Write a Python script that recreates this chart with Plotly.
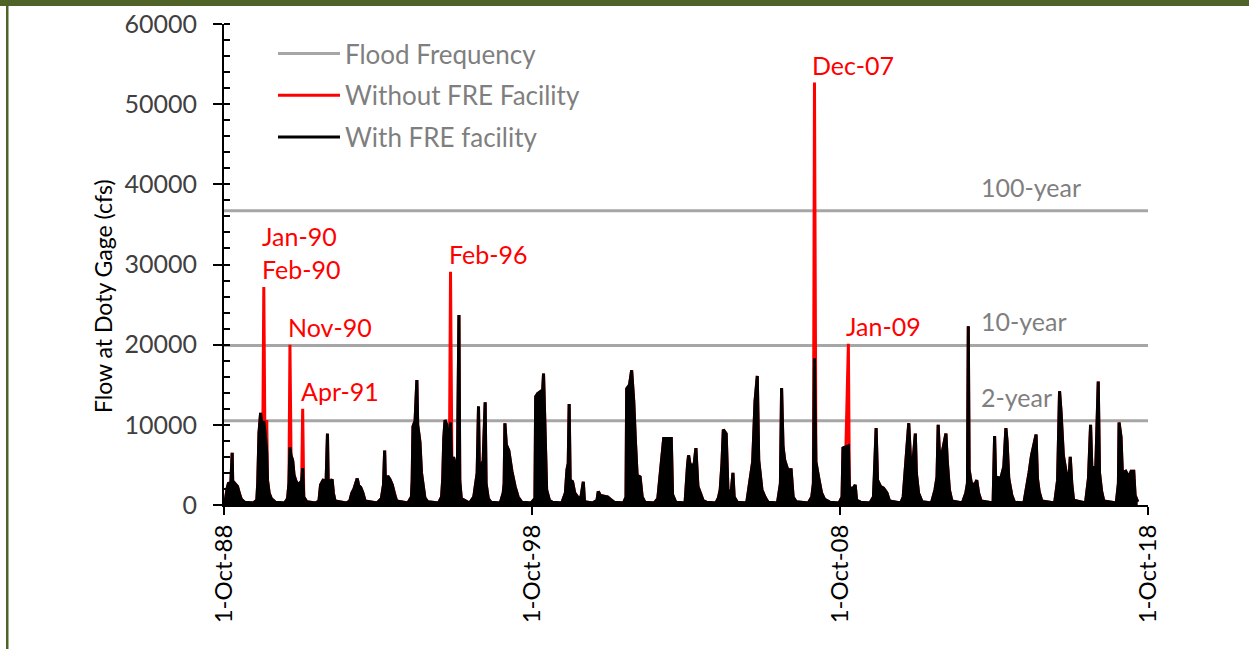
import plotly.graph_objects as go

# ---------------- data ----------------
dates = [
    # 1988-89
    "1988-10-01", "1988-10-20", "1988-11-05", "1988-11-25", "1988-12-20", "1989-01-06", "1989-01-12",
    "1989-02-10", "1989-03-10", "1989-04-05", "1989-04-25", "1989-06-01", "1989-09-15",
    # 1989-90
    "1989-10-25", "1989-11-05", "1989-11-20", "1989-12-09", "1989-12-20", "1990-01-05", "1990-01-16",
    "1990-01-28", "1990-02-10", "1990-02-20", "1990-03-01", "1990-03-20", "1990-04-15", "1990-06-01", "1990-09-20",
    # 1990-91
    "1990-10-25", "1990-11-10", "1990-11-22", "1990-12-05", "1990-12-25", "1991-01-10", "1991-02-01",
    "1991-03-01", "1991-04-10", "1991-04-22", "1991-05-05", "1991-06-10", "1991-09-20",
    # 1991-92
    "1991-11-01", "1991-11-20", "1991-12-20", "1992-01-25", "1992-02-10", "1992-02-18", "1992-03-15",
    "1992-04-05", "1992-04-20", "1992-05-10", "1992-09-20",
    # 1992-93
    "1992-11-01", "1992-11-25", "1992-12-20", "1993-01-28", "1993-02-15", "1993-03-10", "1993-04-05",
    "1993-05-01", "1993-09-20",
    # 1993-94
    "1993-11-10", "1993-12-05", "1993-12-19", "1993-12-28", "1994-01-25", "1994-02-20", "1994-03-20",
    "1994-04-15", "1994-05-10", "1994-09-20",
    # 1994-95
    "1994-11-01", "1994-11-10", "1994-11-20", "1994-12-15", "1995-01-05", "1995-01-15", "1995-02-10",
    "1995-03-01", "1995-03-20", "1995-04-10", "1995-05-15", "1995-09-20",
    # 1995-96
    "1995-10-25", "1995-11-08", "1995-11-20", "1995-12-05", "1995-12-25", "1996-01-10", "1996-01-28",
    "1996-02-08", "1996-02-25", "1996-03-15", "1996-04-10", "1996-05-01", "1996-05-18", "1996-05-28",
    "1996-06-15", "1996-09-20",
    # 1996-97
    "1996-11-10", "1996-12-05", "1996-12-20", "1997-01-05", "1997-01-15", "1997-02-10", "1997-03-01",
    "1997-03-25", "1997-04-05", "1997-05-01", "1997-06-01", "1997-09-20",
    # 1997-98
    "1997-10-25", "1997-11-05", "1997-11-14", "1997-12-01", "1997-12-30", "1998-02-05", "1998-03-15",
    "1998-04-20", "1998-06-01", "1998-09-20",
    # 1998-99
    "1998-11-05", "1998-11-14", "1998-12-08", "1999-01-03", "1999-01-25", "1999-02-15", "1999-03-05",
    "1999-03-24", "1999-04-25", "1999-06-01", "1999-09-20",
    # 1999-00
    "1999-11-01", "1999-11-20", "1999-12-05", "1999-12-16", "1999-12-28", "2000-01-25", "2000-02-20",
    "2000-03-25", "2000-05-01", "2000-06-01", "2000-06-15", "2000-09-20",
    # 2000-01
    "2000-11-10", "2000-11-25", "2000-12-20", "2001-02-01", "2001-03-15", "2001-04-20", "2001-06-01", "2001-09-20",
    # 2001-02
    "2001-10-20", "2001-10-28", "2001-12-01", "2001-12-26", "2002-01-20", "2002-02-08", "2002-03-01",
    "2002-04-05", "2002-04-30", "2002-06-01", "2002-09-20",
    # 2002-03
    "2002-11-01", "2002-11-20", "2002-12-10", "2003-01-10", "2003-04-10", "2003-04-25", "2003-06-01", "2003-09-20",
    # 2003-04
    "2003-10-20", "2003-11-01", "2003-11-20", "2004-01-05", "2004-01-27", "2004-02-20", "2004-03-20",
    "2004-04-20", "2004-06-01", "2004-09-20",
    # 2004-05
    "2004-10-20", "2004-11-10", "2004-12-01", "2004-12-17", "2005-01-20", "2005-02-10", "2005-03-20",
    "2005-04-10", "2005-04-25", "2005-06-01", "2005-09-20",
    # 2005-06
    "2005-10-23", "2005-11-30", "2005-12-28", "2006-01-24", "2006-02-10", "2006-03-20", "2006-04-25",
    "2006-06-01", "2006-09-20",
    # 2006-07
    "2006-10-25", "2006-11-08", "2006-11-25", "2006-12-15", "2007-01-20", "2007-03-01", "2007-03-25",
    "2007-05-01", "2007-09-20",
    # 2007-08
    "2007-11-01", "2007-11-20", "2007-12-03", "2007-12-20", "2008-01-20", "2008-02-25", "2008-04-01",
    "2008-06-01", "2008-09-20",
    # 2008-09
    "2008-10-25", "2008-11-05", "2008-12-10", "2009-01-08", "2009-01-20", "2009-02-20", "2009-03-30",
    "2009-04-15", "2009-06-01", "2009-09-20",
    # 2009-10
    "2009-11-01", "2009-11-15", "2009-12-03", "2009-12-20", "2010-01-25", "2010-03-01", "2010-04-10",
    "2010-05-10", "2010-09-20",
    # 2010-11
    "2010-10-20", "2010-11-01", "2010-11-25", "2010-12-25", "2011-01-15", "2011-02-15", "2011-03-13",
    "2011-03-25", "2011-04-20", "2011-06-01", "2011-09-20",
    # 2011-12
    "2011-11-01", "2011-11-25", "2011-12-09", "2011-12-25", "2012-01-30", "2012-03-10", "2012-03-25",
    "2012-04-20", "2012-05-20", "2012-09-20",
    # 2012-13
    "2012-11-01", "2012-11-20", "2012-11-30", "2012-12-10", "2013-01-05", "2013-02-15", "2013-03-10",
    "2013-04-01", "2013-05-01", "2013-09-20",
    # 2013-14
    "2013-10-08", "2013-10-20", "2013-12-20", "2014-01-25", "2014-02-19", "2014-03-05", "2014-03-25",
    "2014-04-30", "2014-06-01", "2014-09-20",
    # 2014-15
    "2014-10-20", "2014-11-20", "2014-12-20", "2015-02-12", "2015-02-28", "2015-03-20", "2015-04-20", "2015-09-20",
    # 2015-16
    "2015-10-25", "2015-11-17", "2015-12-05", "2016-01-01", "2016-02-05", "2016-03-10", "2016-03-23",
    "2016-04-10", "2016-05-01", "2016-09-20",
    # 2016-17
    "2016-10-25", "2016-11-19", "2016-12-05", "2017-01-20", "2017-02-18", "2017-03-05", "2017-03-30",
    "2017-04-25", "2017-09-20",
    # 2017-18
    "2017-10-15", "2017-10-23", "2017-11-15", "2017-12-01", "2018-01-10", "2018-02-15", "2018-03-15",
    "2018-04-15", "2018-05-01", "2018-06-01",
]

flow_with_fre = [
    300, 800, 2000, 2800, 2500, 6500, 3000, 2600, 2300, 1300, 700, 350, 250,
    600, 2700, 9000, 11500, 10500, 10000, 10500, 9500, 8000, 6500, 3100, 1500, 800, 350, 250,
    800, 2700, 7200, 6200, 5500, 3700, 3000, 2500, 3000, 4600, 1000, 400, 250,
    500, 2500, 3100, 3000, 8900, 3200, 2800, 3200, 1500, 500, 250,
    500, 1500, 2000, 3300, 2400, 2200, 1500, 500, 250,
    800, 2500, 6800, 2800, 3600, 3200, 2500, 1300, 500, 250,
    1000, 3000, 9800, 10500, 15600, 10000, 7900, 4000, 2300, 900, 400, 250,
    1000, 3300, 8300, 10600, 10000, 6600, 9000, 10300, 4400, 6000, 4000, 6000, 23700, 3000, 800, 250,
    1000, 3100, 4000, 12300, 4400, 5000, 5500, 12800, 2700, 800, 350, 250,
    1500, 2700, 10200, 7500, 6800, 4200, 2300, 1000, 350, 250,
    800, 13500, 13900, 14100, 12000, 16400, 7300, 1900, 600, 350, 250,
    1500, 4400, 5200, 12600, 3100, 2900, 1500, 1000, 800, 2900, 400, 250,
    600, 1700, 1200, 1100, 1000, 700, 350, 250,
    1000, 14500, 15000, 16800, 12900, 8100, 3700, 3500, 1000, 350, 250,
    800, 3000, 4800, 8300, 8300, 1300, 350, 250,
    5000, 6200, 5000, 5000, 7100, 2300, 1500, 600, 350, 250,
    900, 1900, 5200, 9400, 8900, 1900, 1500, 4000, 1000, 350, 250,
    2500, 5400, 12900, 16100, 5600, 1900, 1000, 350, 250,
    2700, 14600, 7300, 5600, 4400, 4400, 1000, 400, 250,
    1000, 2700, 18300, 5400, 3500, 1500, 700, 350, 250,
    1000, 7100, 7300, 7400, 2300, 1900, 2500, 600, 350, 250,
    1000, 4000, 9600, 3100, 2300, 2100, 1500, 500, 250,
    1000, 2700, 5200, 10200, 5600, 5600, 8900, 4000, 1500, 400, 250,
    1900, 3500, 10000, 6000, 6800, 8900, 5600, 1900, 500, 250,
    1500, 2700, 22300, 4400, 2700, 2500, 3100, 1500, 500, 250,
    8600, 3500, 3300, 4800, 9600, 7900, 3300, 1200, 350, 250,
    1900, 4000, 6200, 8800, 3300, 1700, 500, 250,
    3100, 14200, 11600, 6200, 4000, 3500, 6000, 2700, 600, 250,
    3300, 10000, 4400, 4800, 15400, 4000, 1700, 500, 250,
    2700, 10300, 8500, 4000, 4200, 3500, 4200, 4200, 1200, 400,
]

# flood events: peak flow without the FRE facility
event_dates = ["1990-01-16", "1990-02-20", "1990-11-22", "1991-04-22", "1996-02-08", "2007-12-03", "2009-01-08"]
flow_without_fre_peaks = [27200, 10600, 20000, 12000, 29100, 52700, 20100]
event_labels = ["Jan-90<br>Feb-90", "", "Nov-90", "Apr-91", "Feb-96", "Dec-07", "Jan-09"]

flood_freq_values = [10500, 19900, 36700]
flood_freq_labels = ["2-year", "10-year", "100-year"]

x_start, x_end = "1988-10-01", "2018-10-01"
x_tick_dates = ["1988-10-01", "1998-10-01", "2008-10-01", "2018-10-01"]
x_tick_labels = ["1-Oct-88", "1-Oct-98", "1-Oct-08", "1-Oct-18"]

# ---------------- figure ----------------
FONT = "Lato"
FS = 25
GREY_TXT = "#7F7F7F"
RED = "#FF0000"

fig = go.Figure()

ff_x, ff_y = [], []
for v in flood_freq_values:
    ff_x += [x_start, x_end, None]
    ff_y += [v, v, None]
fig.add_trace(go.Scatter(x=ff_x, y=ff_y, mode="lines", name="Flood Frequency",
                         line=dict(color="#A6A6A6", width=3), legendgroup="g1"))

without_map = dict(zip(dates, flow_with_fre))
for d, p in zip(event_dates, flow_without_fre_peaks):
    without_map[d] = p
flow_without_fre = [without_map[d] for d in dates]

fig.add_trace(go.Scatter(x=dates, y=flow_without_fre, mode="lines", name="Without FRE Facility",
                         line=dict(color=RED, width=3), legendgroup="g2"))

fig.add_trace(go.Scatter(x=dates, y=flow_with_fre, mode="lines", name="With FRE facility",
                         line=dict(color="black", width=3), fill="tozeroy", fillcolor="black",
                         showlegend=False, legendgroup="g3"))
fig.add_trace(go.Scatter(x=[None], y=[None], mode="lines", name="With FRE facility",
                         line=dict(color="black", width=3), legendgroup="g3"))

annotations = []
for d, p, lab in zip(event_dates, flow_without_fre_peaks, event_labels):
    if not lab:
        continue
    annotations.append(dict(x=d, y=p, xref="x", yref="y", text=lab, showarrow=False,
                            xanchor="left", yanchor="bottom", xshift=-4, yshift=1, align="left",
                            font=dict(family=FONT, size=FS, color=RED)))
for v, lab in zip(flood_freq_values, flood_freq_labels):
    annotations.append(dict(x="2013-04-01", y=v, xref="x", yref="y", text=lab, showarrow=False,
                            xanchor="left", yanchor="bottom", yshift=7,
                            font=dict(family=FONT, size=FS, color=GREY_TXT)))
annotations.append(dict(x=(103 - 224) / 924, y=(505 - 296) / 481, xref="paper", yref="paper",
                        text="Flow at Doty Gage (cfs)", showarrow=False, textangle=-90,
                        xanchor="center", yanchor="middle",
                        font=dict(family=FONT, size=23, color="black")))


def px_x(px):
    return (px - 224) / 924


def px_y(py):
    return (505 - py) / 481


shapes = [
    dict(type="rect", xref="paper", yref="paper", x0=px_x(-5), x1=px_x(1260), y0=px_y(6), y1=px_y(-5),
         fillcolor="#4F6228", line=dict(width=0), layer="above"),
    dict(type="rect", xref="paper", yref="paper", x0=px_x(6), x1=px_x(8.5), y0=px_y(660), y1=px_y(0),
         fillcolor="#4F6228", line=dict(width=0), layer="above"),
]

fig.update_layout(
    width=1249, height=649,
    margin=dict(l=224, r=101, t=24, b=144, autoexpand=False),
    paper_bgcolor="white", plot_bgcolor="white",
    font=dict(family=FONT, size=FS, color="black"),
    showlegend=True,
    legend=dict(x=px_x(273), y=px_y(30), xanchor="left", yanchor="top",
                bgcolor="rgba(0,0,0,0)", borderwidth=0, itemwidth=62,
                font=dict(family=FONT, size=26, color=GREY_TXT),
                tracegroupgap=5, traceorder="grouped"),
    annotations=annotations,
    shapes=shapes,
    xaxis=dict(type="date", range=[x_start, x_end], showgrid=False, zeroline=False, automargin=False,
               showline=True, linecolor="black", linewidth=2,
               ticks="outside", ticklen=8, tickwidth=2, tickcolor="black",
               tickvals=x_tick_dates, ticktext=x_tick_labels, tickangle=-90,
               tickfont=dict(family=FONT, size=24, color="black"), ticklabelstandoff=0),
    yaxis=dict(range=[0, 60000], showgrid=False, zeroline=False, automargin=False,
               showline=True, linecolor="black", linewidth=2,
               ticks="outside", ticklen=9, tickwidth=2, tickcolor="black",
               tickvals=[0, 10000, 20000, 30000, 40000, 50000, 60000], tickformat="d",
               minor=dict(dtick=2000, ticks="inside", ticklen=6, tickwidth=2, tickcolor="black"),
               tickfont=dict(family=FONT, size=FS, color="#404040"), ticklabelstandoff=11),
)

fig.write_html("out.html")
